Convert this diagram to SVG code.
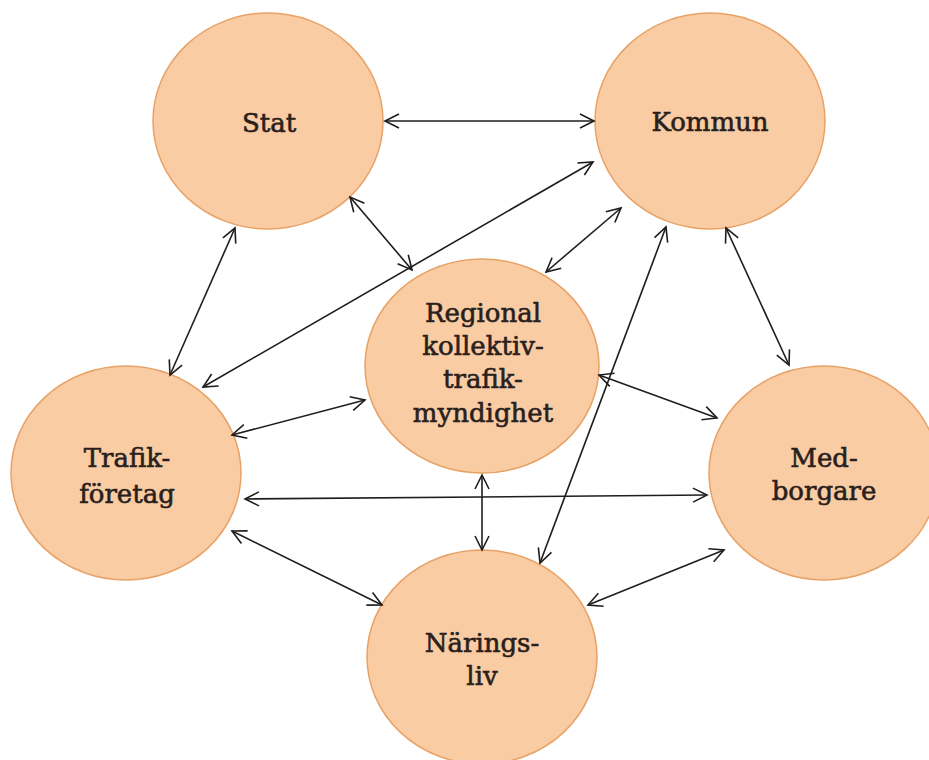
<svg xmlns="http://www.w3.org/2000/svg" width="929" height="760" viewBox="0 0 929 760">
<style>
.node{fill:#F9CCA4;stroke:#E8A265;stroke-width:1.5}
.lbl{font-family:"DejaVu Serif","Liberation Serif",serif;font-size:26px;fill:#2a1f1c;stroke:#2a1f1c;stroke-width:0.6;text-anchor:middle}
.c{stroke:#1e1e1e;stroke-width:1.6;fill:none;marker-start:url(#ah);marker-end:url(#ah)}
</style>
<defs>
<marker id="ah" viewBox="-16 -9 18 18" refX="0" refY="0" markerWidth="18" markerHeight="18" markerUnits="userSpaceOnUse" orient="auto-start-reverse">
<path d="M-14,-7 L0,0 L-14,7" fill="none" stroke="#1e1e1e" stroke-width="1.6"/>
</marker>
</defs>
<rect width="929" height="760" fill="#ffffff"/>
<g id="stat"><ellipse class="node" cx="268" cy="121" rx="115" ry="108"/><text class="lbl" x="269" y="132">Stat</text></g>
<g id="kommun"><ellipse class="node" cx="710" cy="121" rx="115" ry="108"/><text class="lbl" x="710" y="131">Kommun</text></g>
<g id="regional"><ellipse class="node" cx="482" cy="366" rx="117" ry="107"/><text class="lbl" x="483" y="322">Regional</text><text class="lbl" x="483" y="355">kollektiv-</text><text class="lbl" x="483" y="388">trafik-</text><text class="lbl" x="483" y="422">myndighet</text></g>
<g id="trafikforetag"><ellipse class="node" cx="126" cy="473" rx="115" ry="107"/><text class="lbl" x="127" y="467">Trafik-</text><text class="lbl" x="127" y="503">företag</text></g>
<g id="medborgare"><ellipse class="node" cx="824" cy="473" rx="115" ry="107"/><text class="lbl" x="824" y="467">Med-</text><text class="lbl" x="824" y="500">borgare</text></g>
<g id="naringsliv"><ellipse class="node" cx="482" cy="657" rx="115" ry="107"/><text class="lbl" x="482" y="652">Närings-</text><text class="lbl" x="482" y="685">liv</text></g>
<g id="connectors">
<line class="c" x1="385" y1="121" x2="594" y2="121"/>
<line class="c" x1="350" y1="197" x2="412" y2="270"/>
<line class="c" x1="235" y1="228" x2="170" y2="375"/>
<line class="c" x1="203" y1="387" x2="593" y2="162"/>
<line class="c" x1="621" y1="208" x2="546" y2="272"/>
<line class="c" x1="666" y1="227" x2="540" y2="563"/>
<line class="c" x1="726" y1="228" x2="789" y2="365"/>
<line class="c" x1="599" y1="375" x2="717" y2="418"/>
<line class="c" x1="245" y1="499" x2="707" y2="495"/>
<line class="c" x1="724" y1="550" x2="588" y2="605"/>
<line class="c" x1="482" y1="475" x2="482" y2="550"/>
<line class="c" x1="232" y1="531" x2="382" y2="605"/>
<line class="c" x1="232" y1="435" x2="365" y2="400"/>
</g>
</svg>
